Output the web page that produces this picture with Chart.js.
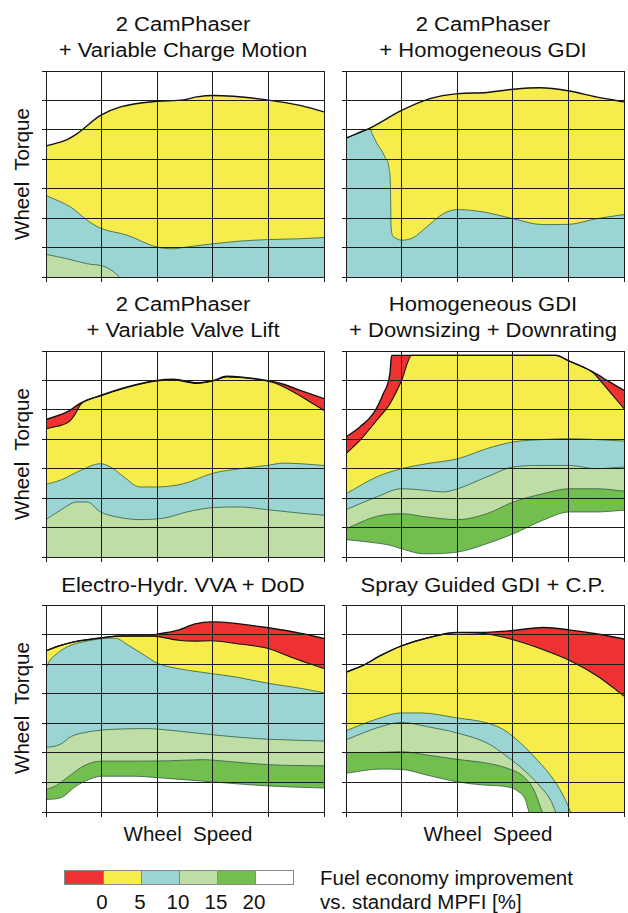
<!DOCTYPE html>
<html lang="en">
<head>
<meta charset="UTF-8">
<title>Fuel economy improvement maps</title>
<script src="https://cdn.jsdelivr.net/npm/chart.js"></script>
<style>
  body { margin: 0; background: #fff; }
  #page { position: relative; width: 628px; height: 913px; overflow: hidden;
          font-family: "Liberation Sans", Arial, sans-serif; color: #111; }
  canvas { position: absolute; }
  .title { position: absolute; width: 300px; text-align: center; font-size: 20px;
           line-height: 26px; transform: scaleX(1.1); white-space: nowrap; }
  .ylab { position: absolute; width: 200px; height: 24px; line-height: 24px; font-size: 20.5px;
          text-align: center; transform: rotate(-90deg); white-space: pre; }
  .xlab { position: absolute; width: 200px; line-height: 24px; font-size: 20.5px;
          text-align: center; white-space: pre; top: 822px; }
  #legendBar { position: absolute; left: 64px; top: 870px; height: 15px; display: flex;
               border: 1px solid #888; box-sizing: border-box; }
  #legendBar div { width: 38px; height: 100%; box-sizing: border-box; border-left: 1px solid #888; }
  #legendBar div:first-child { border-left: none; }
  .lnum { position: absolute; width: 40px; text-align: center; font-size: 20.5px; line-height: 24px; top: 890px; }
  #legendText { position: absolute; left: 320px; top: 866px; font-size: 20.5px; line-height: 24px; white-space: nowrap; }
</style>
</head>
<body>
<div id="page">
  <div class="title" style="left:33px; top:11px;">2 CamPhaser<br>+ Variable Charge Motion</div>
  <div class="title" style="left:333px; top:11px;">2 CamPhaser<br>+ Homogeneous GDI</div>
  <div class="title" style="left:33px; top:291px;">2 CamPhaser<br>+ Variable Valve Lift</div>
  <div class="title" style="left:333px; top:291px;">Homogeneous GDI<br>+ Downsizing + Downrating</div>
  <div class="title" style="left:33px; top:572px;">Electro-Hydr. VVA + DoD</div>
  <div class="title" style="left:333px; top:572px;">Spray Guided GDI + C.P.</div>

  <div class="ylab" style="left:-78px; top:162px;">Wheel  Torque</div>
  <div class="ylab" style="left:-78px; top:442px;">Wheel  Torque</div>
  <div class="ylab" style="left:-78px; top:696px;">Wheel  Torque</div>

  <div class="xlab" style="left:88px;">Wheel  Speed</div>
  <div class="xlab" style="left:388px;">Wheel  Speed</div>

  <canvas id="c1" width="284" height="213" style="left:42px; top:69px;"></canvas>
  <canvas id="c2" width="284" height="213" style="left:342px; top:69px;"></canvas>
  <canvas id="c3" width="284" height="213" style="left:42px; top:349px;"></canvas>
  <canvas id="c4" width="284" height="213" style="left:342px; top:349px;"></canvas>
  <canvas id="c5" width="284" height="214" style="left:42px; top:603px;"></canvas>
  <canvas id="c6" width="284" height="214" style="left:342px; top:603px;"></canvas>

  <div id="legendBar"></div>
  <div id="legendNums"></div>
  <div id="legendText">Fuel economy improvement<br>vs. standard MPFI [%]</div>
</div>

<script>
// colour classes of the map: 0, 5, 10, 15, 20 % and above
var classColors = ['#ee3231', '#f6ec4c', '#9ad5d4', '#bfdea5', '#72bf4f', '#ffffff'];
var classLimits = ['0', '5', '10', '15', '20'];

// curves as [wheel speed, wheel torque] in grid units (speed 0-5, torque 0-7)
// 2 CamPhaser + Variable Charge Motion
var vcmFullLoad = [[0,4.45],[0.38,4.67],[0.56,4.87],[0.98,5.49],[1.34,5.78],[1.99,5.97],[2.47,6.02],[2.71,6.12],[3.01,6.17],[3.37,6.14],[3.97,6.02],[4.57,5.83],[5,5.61]];
var vcm10 = [[0,2.77],[0.44,2.38],[0.74,1.93],[0.98,1.66],[1.46,1.42],[1.99,1.02],[2.29,0.96],[2.53,1.02],[3.01,1.13],[3.49,1.22],[3.97,1.27],[4.57,1.30],[5,1.34]];
var vcm15 = [[0,0.77],[0.38,0.62],[0.74,0.45],[1.04,0.36],[1.22,0.17],[1.32,0]];

// 2 CamPhaser + Homogeneous GDI
var gdiFullLoad = [[0,4.72],[0.43,5.06],[1.0,5.66],[1.51,6.06],[2.01,6.23],[2.53,6.27],[3.01,6.38],[3.49,6.43],[4.02,6.32],[4.5,6.12],[5,5.95]];
var gdi10 = [[0,4.70],[0.43,5.03],[0.47,4.87],[0.56,4.53],[0.70,4.08],[0.78,3.62],[0.80,3.06],[0.805,2.38],[0.81,1.70],[0.86,1.36],[1.0,1.25],[1.21,1.34],[1.45,1.70],[1.75,2.15],[2.01,2.29],[2.47,2.21],[3.01,1.98],[3.54,1.78],[4.02,1.79],[4.5,1.98],[5,2.12]];

// 2 CamPhaser + Variable Valve Lift
var vvlFullLoad = [[0,4.67],[0.38,4.93],[0.62,5.23],[0.98,5.49],[1.46,5.78],[1.99,6.0],[2.29,6.04],[2.71,5.92],[3.01,6.0],[3.25,6.14],[3.49,6.12],[3.97,6.0],[4.27,5.87],[4.57,5.66],[5,5.38]];
var vvl5 = [[0,4.36],[0.2,4.44],[0.41,4.59],[0.53,4.87],[0.62,5.18],[0.98,5.47],[1.46,5.76],[1.99,5.98],[2.29,6.02],[2.71,5.9],[3.01,5.98],[3.25,6.12],[3.49,6.1],[3.97,5.98],[4.15,5.89],[4.45,5.61],[4.75,5.27],[5,4.98]];
var vvl10 = [[0,2.47],[0.26,2.61],[0.62,2.94],[0.98,3.17],[1.16,3.06],[1.40,2.72],[1.69,2.38],[1.99,2.38],[2.47,2.49],[3.01,2.85],[3.49,3.0],[3.97,3.11],[4.27,3.19],[4.57,3.17],[5,3.11]];
var vvl15 = [[0,1.27],[0.26,1.59],[0.56,1.87],[0.74,1.87],[0.98,1.53],[1.28,1.36],[1.69,1.27],[2.17,1.34],[2.53,1.53],[3.01,1.68],[3.49,1.70],[3.97,1.61],[4.57,1.49],[5,1.42]];

// Homogeneous GDI + Downsizing + Downrating
var dsFullLoad = [[0,4.08],[0.25,4.42],[0.49,4.87],[0.67,5.55],[0.79,6.23],[0.82,6.85],[1.5,6.85],[2.5,6.85],[3.78,6.85],[3.99,6.68],[4.20,6.51],[4.44,6.29],[4.74,5.95],[5,5.66]];
var ds5 = [[0,3.51],[0.25,3.96],[0.55,4.64],[0.79,5.21],[1.0,6.0],[1.18,6.85],[2.0,6.85],[3.0,6.85],[3.78,6.85],[3.99,6.68],[4.20,6.51],[4.44,6.27],[4.62,5.89],[4.80,5.49],[5,5.04]];
var ds10 = [[0,2.15],[0.55,2.72],[1.0,3.0],[1.45,3.17],[2.01,3.34],[2.53,3.68],[3.01,3.91],[3.54,3.99],[4.02,4.02],[4.5,3.99],[5,3.94]];
var ds15 = [[0,1.61],[0.55,2.04],[1.0,2.32],[1.45,2.26],[1.75,2.21],[2.01,2.32],[2.53,2.72],[3.01,3.06],[3.54,3.11],[4.02,3.11],[4.5,3.0],[5,3.06]];
var ds20 = [[0,0.96],[0.55,1.38],[1.0,1.47],[1.45,1.36],[2.01,1.27],[2.53,1.47],[3.01,1.87],[3.54,2.15],[4.02,2.32],[4.5,2.32],[5,2.24]];
var dsOver = [[0,0.59],[0.4,0.51],[0.79,0.40],[1.0,0.28],[1.39,0.11],[2.01,0.17],[2.53,0.45],[3.01,0.79],[3.54,1.25],[4.02,1.53],[4.5,1.53],[5,1.59]];

// Electro-Hydr. VVA + DoD
var ehFullLoad = [[0,5.45],[0.22,5.61],[0.52,5.76],[1.0,5.89],[1.36,5.95],[1.84,5.95],[2.02,6.02],[2.38,6.15],[2.68,6.36],[2.98,6.43],[3.40,6.38],[4.0,6.23],[4.59,6.04],[5,5.87]];
var eh5 = [[0,5.45],[0.22,5.61],[0.52,5.76],[1.0,5.89],[1.36,5.95],[1.84,5.95],[2.02,5.93],[2.38,5.81],[2.68,5.78],[2.98,5.79],[3.40,5.70],[4.0,5.53],[4.47,5.19],[5,4.85]];
var eh10 = [[0,4.85],[0.06,5.10],[0.16,5.30],[0.40,5.60],[0.76,5.79],[1.0,5.86],[1.24,5.88],[1.48,5.64],[1.72,5.36],[2.02,5.02],[2.38,4.85],[2.98,4.68],[3.40,4.57],[4.0,4.35],[4.59,4.18],[5,4.03]];
var eh15 = [[0,2.18],[0.25,2.28],[0.46,2.56],[0.76,2.71],[1.0,2.77],[1.84,2.82],[2.20,2.77],[2.80,2.65],[3.40,2.54],[4.0,2.46],[5,2.40]];
var eh20 = [[0,0.76],[0.19,0.90],[0.40,1.19],[0.70,1.58],[1.0,1.72],[1.60,1.72],[2.20,1.73],[2.80,1.77],[3.40,1.69],[4.0,1.60],[5,1.56]];
var ehOver = [[0,0.42],[0.28,0.49],[0.52,0.85],[0.76,1.09],[1.0,1.21],[1.60,1.21],[2.02,1.16],[2.98,1.02],[4.0,0.88],[5,0.81]];

// Spray Guided GDI + C.P.
var sgFullLoad = [[0,4.73],[0.31,4.96],[0.61,5.28],[1.0,5.62],[1.45,5.88],[2.0,6.07],[2.42,6.07],[2.96,6.13],[3.56,6.24],[4.04,6.15],[4.52,6.02],[5,5.85]];
var sg5 = [[0,4.73],[0.31,4.96],[0.61,5.28],[1.0,5.62],[1.45,5.88],[2.0,6.07],[2.42,6.05],[2.96,5.85],[3.56,5.48],[4.04,5.11],[4.52,4.60],[5,3.92]];
var sg10 = [[0,2.75],[0.55,3.14],[1.0,3.35],[1.34,3.35],[2.0,3.18],[2.54,3.01],[2.84,2.78],[3.14,2.33],[3.44,1.76],[3.74,1.08],[3.92,0.51],[4.04,0]];
var sg15 = [[0,2.44],[0.55,2.84],[1.0,3.03],[1.45,2.89],[2.0,2.67],[2.54,2.33],[2.90,1.87],[3.20,1.42],[3.50,0.85],[3.68,0.40],[3.77,0]];
var sg20 = [[0,2.01],[0.55,2.01],[1.0,2.04],[1.45,1.93],[2.0,1.78],[2.54,1.65],[2.90,1.48],[3.20,1.19],[3.38,0.74],[3.53,0]];
var sgOver = [[0,1.31],[0.61,1.45],[1.0,1.44],[1.45,1.25],[2.0,1.02],[2.48,0.91],[2.90,0.85],[3.11,0.68],[3.23,0.40],[3.29,0]];

var edgeColor = 'rgba(45,85,60,0.85)';

function toXY(pts) {
    return pts.map(function (p) { return { x: p[0], y: p[1] }; });
}

// a coloured zone, filled down to the bottom of the map (painted largest first)
function zone(pts, color, edge) {
    return {
        data: toXY(pts),
        backgroundColor: color,
        borderColor: edge ? edgeColor : 'rgba(0,0,0,0)',
        borderWidth: edge ? 0.9 : 0,
        fill: 'start',
        pointRadius: 0,
        cubicInterpolationMode: 'monotone'
    };
}

function outline(pts, w) {
    return {
        data: toXY(pts),
        borderColor: '#111',
        borderWidth: w,
        fill: false,
        pointRadius: 0,
        cubicInterpolationMode: 'monotone'
    };
}

function makeMap(id, datasets) {
    var n = datasets.length;
    datasets.forEach(function (d, i) { d.order = n - i; });
    var axis = function (max, tick) {
        return {
            type: 'linear', min: 0, max: max, z: 1,
            ticks: { display: false, stepSize: 1 },
            grid: { color: '#1c1c1c', lineWidth: 1, tickLength: tick, z: 1 },
            border: { color: '#1c1c1c', width: 1, z: 1 }
        };
    };
    return new Chart(document.getElementById(id), {
        type: 'line',
        data: { datasets: datasets },
        options: {
            responsive: false,
            animation: false,
            events: [],
            layout: { padding: { top: 2, right: 2, left: 0, bottom: 0 } },
            plugins: { legend: { display: false }, tooltip: { enabled: false } },
            scales: { x: axis(5, 5), y: axis(7, 4) }
        }
    });
}

var C = classColors;
makeMap('c1', [zone(vcmFullLoad, C[1]), zone(vcm10, C[2], true), zone(vcm15, C[3], true), outline(vcmFullLoad, 1.4)]);
makeMap('c2', [zone(gdiFullLoad, C[1]), zone(gdi10, C[2], true), outline(gdiFullLoad, 1.4)]);
makeMap('c3', [zone(vvlFullLoad, C[0]), zone(vvl5, C[1]), zone(vvl10, C[2], true), zone(vvl15, C[3], true),
               outline(vvl5, 1.1), outline(vvlFullLoad, 1.4)]);
makeMap('c4', [zone(dsFullLoad, C[0]), zone(ds5, C[1]), zone(ds10, C[2], true), zone(ds15, C[3], true),
               zone(ds20, C[4], true), zone(dsOver, C[5], true), outline(ds5, 1.1), outline(dsFullLoad, 1.4)]);
makeMap('c5', [zone(ehFullLoad, C[0]), zone(eh5, C[1]), zone(eh10, C[2], true), zone(eh15, C[3], true),
               zone(eh20, C[4], true), zone(ehOver, C[5], true), outline(eh5, 1.1), outline(ehFullLoad, 1.4)]);
makeMap('c6', [zone(sgFullLoad, C[0]), zone(sg5, C[1]), zone(sg10, C[2], true), zone(sg15, C[3], true),
               zone(sg20, C[4], true), zone(sgOver, C[5], true), outline(sg5, 1.1), outline(sgFullLoad, 1.4)]);

// colour key
var bar = document.getElementById('legendBar');
classColors.forEach(function (c) {
    var cell = document.createElement('div');
    cell.style.background = c;
    bar.appendChild(cell);
});
var nums = document.getElementById('legendNums');
classLimits.forEach(function (t, i) {
    var d = document.createElement('div');
    d.className = 'lnum';
    d.textContent = t;
    d.style.left = (64 + 38 * (i + 1) - 20) + 'px';
    nums.appendChild(d);
});
</script>
</body>
</html>
